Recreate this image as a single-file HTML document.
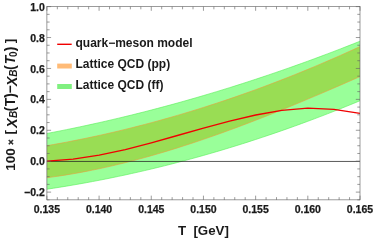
<!DOCTYPE html>
<html><head><meta charset="utf-8"><style>
html,body{margin:0;padding:0;background:#fff;}
svg{display:block;will-change:transform;font-family:"Liberation Sans",sans-serif;font-weight:bold;fill:#1a1a1a}
</style></head><body>
<svg width="373" height="240" viewBox="0 0 373 240">
<rect width="373" height="240" fill="#fff"/>
<polygon points="46.90,145.67 53.42,144.53 59.95,143.35 66.47,142.13 72.99,140.87 79.51,139.57 86.04,138.24 92.56,136.86 99.08,135.44 105.61,133.99 112.13,132.49 118.65,130.96 125.18,129.39 131.70,127.77 138.22,126.12 144.74,124.43 151.27,122.70 157.79,120.93 164.31,119.12 170.84,117.27 177.36,115.38 183.88,113.46 190.40,111.49 196.93,109.48 203.45,107.44 209.97,105.35 216.50,103.23 223.02,101.07 229.54,98.86 236.06,96.62 242.59,94.34 249.11,92.02 255.63,89.66 262.16,87.26 268.68,84.82 275.20,82.34 281.73,79.82 288.25,77.27 294.77,74.67 301.29,72.04 307.82,69.36 314.34,66.65 320.86,63.89 327.39,61.10 333.91,58.27 340.43,55.40 346.95,52.48 353.48,49.53 360.00,46.54 360.00,76.59 353.48,79.46 346.95,82.32 340.43,85.16 333.91,87.99 327.39,90.80 320.86,93.60 314.34,96.37 307.82,99.12 301.29,101.86 294.77,104.56 288.25,107.25 281.73,109.91 275.20,112.54 268.68,115.14 262.16,117.72 255.63,120.26 249.11,122.77 242.59,125.25 236.06,127.69 229.54,130.10 223.02,132.47 216.50,134.80 209.97,137.09 203.45,139.35 196.93,141.55 190.40,143.72 183.88,145.84 177.36,147.91 170.84,149.94 164.31,151.92 157.79,153.85 151.27,155.73 144.74,157.55 138.22,159.32 131.70,161.04 125.18,162.70 118.65,164.30 112.13,165.84 105.61,167.33 99.08,168.75 92.56,170.11 86.04,171.40 79.51,172.63 72.99,173.79 66.47,174.89 59.95,175.92 53.42,176.87 46.90,177.75" fill="#ff8000" fill-opacity="0.45"/>
<polygon points="46.90,133.47 53.42,132.22 59.95,130.94 66.47,129.63 72.99,128.30 79.51,126.93 86.04,125.54 92.56,124.12 99.08,122.67 105.61,121.19 112.13,119.68 118.65,118.15 125.18,116.58 131.70,114.99 138.22,113.37 144.74,111.72 151.27,110.04 157.79,108.33 164.31,106.59 170.84,104.83 177.36,103.04 183.88,101.21 190.40,99.36 196.93,97.48 203.45,95.58 209.97,93.64 216.50,91.68 223.02,89.68 229.54,87.66 236.06,85.61 242.59,83.53 249.11,81.42 255.63,79.28 262.16,77.12 268.68,74.92 275.20,72.70 281.73,70.45 288.25,68.17 294.77,65.86 301.29,63.53 307.82,61.16 314.34,58.77 320.86,56.34 327.39,53.89 333.91,51.41 340.43,48.90 346.95,46.37 353.48,43.80 360.00,41.21 360.00,100.75 353.48,103.44 346.95,106.10 340.43,108.72 333.91,111.31 327.39,113.86 320.86,116.37 314.34,118.85 307.82,121.29 301.29,123.70 294.77,126.07 288.25,128.40 281.73,130.70 275.20,132.96 268.68,135.18 262.16,137.37 255.63,139.53 249.11,141.64 242.59,143.72 236.06,145.77 229.54,147.77 223.02,149.75 216.50,151.68 209.97,153.58 203.45,155.44 196.93,157.27 190.40,159.06 183.88,160.81 177.36,162.53 170.84,164.21 164.31,165.86 157.79,167.46 151.27,169.04 144.74,170.57 138.22,172.07 131.70,173.53 125.18,174.96 118.65,176.35 112.13,177.70 105.61,179.02 99.08,180.30 92.56,181.54 86.04,182.75 79.51,183.92 72.99,185.05 66.47,186.15 59.95,187.21 53.42,188.23 46.90,189.22" fill="#00ff00" fill-opacity="0.4"/>
<g fill="none" stroke-width="0.6">
<polyline points="46.90,145.67 53.42,144.53 59.95,143.35 66.47,142.13 72.99,140.87 79.51,139.57 86.04,138.24 92.56,136.86 99.08,135.44 105.61,133.99 112.13,132.49 118.65,130.96 125.18,129.39 131.70,127.77 138.22,126.12 144.74,124.43 151.27,122.70 157.79,120.93 164.31,119.12 170.84,117.27 177.36,115.38 183.88,113.46 190.40,111.49 196.93,109.48 203.45,107.44 209.97,105.35 216.50,103.23 223.02,101.07 229.54,98.86 236.06,96.62 242.59,94.34 249.11,92.02 255.63,89.66 262.16,87.26 268.68,84.82 275.20,82.34 281.73,79.82 288.25,77.27 294.77,74.67 301.29,72.04 307.82,69.36 314.34,66.65 320.86,63.89 327.39,61.10 333.91,58.27 340.43,55.40 346.95,52.48 353.48,49.53 360.00,46.54" stroke="#e8a040"/>
<polyline points="46.90,177.75 53.42,176.87 59.95,175.92 66.47,174.89 72.99,173.79 79.51,172.63 86.04,171.40 92.56,170.11 99.08,168.75 105.61,167.33 112.13,165.84 118.65,164.30 125.18,162.70 131.70,161.04 138.22,159.32 144.74,157.55 151.27,155.73 157.79,153.85 164.31,151.92 170.84,149.94 177.36,147.91 183.88,145.84 190.40,143.72 196.93,141.55 203.45,139.35 209.97,137.09 216.50,134.80 223.02,132.47 229.54,130.10 236.06,127.69 242.59,125.25 249.11,122.77 255.63,120.26 262.16,117.72 268.68,115.14 275.20,112.54 281.73,109.91 288.25,107.25 294.77,104.56 301.29,101.86 307.82,99.12 314.34,96.37 320.86,93.60 327.39,90.80 333.91,87.99 340.43,85.16 346.95,82.32 353.48,79.46 360.00,76.59" stroke="#e8a040"/>
<polyline points="46.90,133.47 53.42,132.22 59.95,130.94 66.47,129.63 72.99,128.30 79.51,126.93 86.04,125.54 92.56,124.12 99.08,122.67 105.61,121.19 112.13,119.68 118.65,118.15 125.18,116.58 131.70,114.99 138.22,113.37 144.74,111.72 151.27,110.04 157.79,108.33 164.31,106.59 170.84,104.83 177.36,103.04 183.88,101.21 190.40,99.36 196.93,97.48 203.45,95.58 209.97,93.64 216.50,91.68 223.02,89.68 229.54,87.66 236.06,85.61 242.59,83.53 249.11,81.42 255.63,79.28 262.16,77.12 268.68,74.92 275.20,72.70 281.73,70.45 288.25,68.17 294.77,65.86 301.29,63.53 307.82,61.16 314.34,58.77 320.86,56.34 327.39,53.89 333.91,51.41 340.43,48.90 346.95,46.37 353.48,43.80 360.00,41.21" stroke="#55ee55"/>
<polyline points="46.90,189.22 53.42,188.23 59.95,187.21 66.47,186.15 72.99,185.05 79.51,183.92 86.04,182.75 92.56,181.54 99.08,180.30 105.61,179.02 112.13,177.70 118.65,176.35 125.18,174.96 131.70,173.53 138.22,172.07 144.74,170.57 151.27,169.04 157.79,167.46 164.31,165.86 170.84,164.21 177.36,162.53 183.88,160.81 190.40,159.06 196.93,157.27 203.45,155.44 209.97,153.58 216.50,151.68 223.02,149.75 229.54,147.77 236.06,145.77 242.59,143.72 249.11,141.64 255.63,139.53 262.16,137.37 268.68,135.18 275.20,132.96 281.73,130.70 288.25,128.40 294.77,126.07 301.29,123.70 307.82,121.29 314.34,118.85 320.86,116.37 327.39,113.86 333.91,111.31 340.43,108.72 346.95,106.10 353.48,103.44 360.00,100.75" stroke="#55ee55"/>
</g>
<path d="M46.9 161.45H360.0" stroke="#222" stroke-width="0.75" fill="none"/>
<polyline points="47.00,161.20 73.10,159.20 99.20,155.20 125.30,149.60 151.30,142.80 177.40,135.50 203.50,128.20 229.60,121.10 255.70,115.00 281.80,110.40 307.80,108.20 333.90,109.30 360.00,113.30" fill="none" stroke="#f00000" stroke-width="1.35" stroke-linejoin="round"/>
<g stroke="#666" stroke-width="0.65" fill="none">
<rect x="46.9" y="6.6" width="313.1" height="193.25"/>
<path d="M46.90 199.85h2.70 M360.00 199.85h-2.70"/><path d="M46.90 192.12h4.20 M360.00 192.12h-4.20"/><path d="M46.90 184.39h2.70 M360.00 184.39h-2.70"/><path d="M46.90 176.66h2.70 M360.00 176.66h-2.70"/><path d="M46.90 168.93h2.70 M360.00 168.93h-2.70"/><path d="M46.90 161.20h4.20 M360.00 161.20h-4.20"/><path d="M46.90 153.47h2.70 M360.00 153.47h-2.70"/><path d="M46.90 145.74h2.70 M360.00 145.74h-2.70"/><path d="M46.90 138.01h2.70 M360.00 138.01h-2.70"/><path d="M46.90 130.28h4.20 M360.00 130.28h-4.20"/><path d="M46.90 122.55h2.70 M360.00 122.55h-2.70"/><path d="M46.90 114.82h2.70 M360.00 114.82h-2.70"/><path d="M46.90 107.09h2.70 M360.00 107.09h-2.70"/><path d="M46.90 99.36h4.20 M360.00 99.36h-4.20"/><path d="M46.90 91.63h2.70 M360.00 91.63h-2.70"/><path d="M46.90 83.90h2.70 M360.00 83.90h-2.70"/><path d="M46.90 76.17h2.70 M360.00 76.17h-2.70"/><path d="M46.90 68.44h4.20 M360.00 68.44h-4.20"/><path d="M46.90 60.71h2.70 M360.00 60.71h-2.70"/><path d="M46.90 52.98h2.70 M360.00 52.98h-2.70"/><path d="M46.90 45.25h2.70 M360.00 45.25h-2.70"/><path d="M46.90 37.52h4.20 M360.00 37.52h-4.20"/><path d="M46.90 29.79h2.70 M360.00 29.79h-2.70"/><path d="M46.90 22.06h2.70 M360.00 22.06h-2.70"/><path d="M46.90 14.33h2.70 M360.00 14.33h-2.70"/><path d="M46.90 6.60h4.20 M360.00 6.60h-4.20"/><path d="M46.90 199.85v-4.20 M46.90 6.60v4.20"/><path d="M57.34 199.85v-2.70 M57.34 6.60v2.70"/><path d="M67.77 199.85v-2.70 M67.77 6.60v2.70"/><path d="M78.21 199.85v-2.70 M78.21 6.60v2.70"/><path d="M88.65 199.85v-2.70 M88.65 6.60v2.70"/><path d="M99.08 199.85v-4.20 M99.08 6.60v4.20"/><path d="M109.52 199.85v-2.70 M109.52 6.60v2.70"/><path d="M119.96 199.85v-2.70 M119.96 6.60v2.70"/><path d="M130.39 199.85v-2.70 M130.39 6.60v2.70"/><path d="M140.83 199.85v-2.70 M140.83 6.60v2.70"/><path d="M151.27 199.85v-4.20 M151.27 6.60v4.20"/><path d="M161.70 199.85v-2.70 M161.70 6.60v2.70"/><path d="M172.14 199.85v-2.70 M172.14 6.60v2.70"/><path d="M182.58 199.85v-2.70 M182.58 6.60v2.70"/><path d="M193.01 199.85v-2.70 M193.01 6.60v2.70"/><path d="M203.45 199.85v-4.20 M203.45 6.60v4.20"/><path d="M213.89 199.85v-2.70 M213.89 6.60v2.70"/><path d="M224.32 199.85v-2.70 M224.32 6.60v2.70"/><path d="M234.76 199.85v-2.70 M234.76 6.60v2.70"/><path d="M245.20 199.85v-2.70 M245.20 6.60v2.70"/><path d="M255.63 199.85v-4.20 M255.63 6.60v4.20"/><path d="M266.07 199.85v-2.70 M266.07 6.60v2.70"/><path d="M276.51 199.85v-2.70 M276.51 6.60v2.70"/><path d="M286.94 199.85v-2.70 M286.94 6.60v2.70"/><path d="M297.38 199.85v-2.70 M297.38 6.60v2.70"/><path d="M307.82 199.85v-4.20 M307.82 6.60v4.20"/><path d="M318.25 199.85v-2.70 M318.25 6.60v2.70"/><path d="M328.69 199.85v-2.70 M328.69 6.60v2.70"/><path d="M339.13 199.85v-2.70 M339.13 6.60v2.70"/><path d="M349.56 199.85v-2.70 M349.56 6.60v2.70"/><path d="M360.00 199.85v-4.20 M360.00 6.60v4.20"/>
</g>
<g font-size="10.5px" stroke="#1a1a1a" stroke-width="0.25"><text x="44.80" y="196.22" text-anchor="end">−0.2</text><text x="44.80" y="165.30" text-anchor="end">0.0</text><text x="44.80" y="134.38" text-anchor="end">0.2</text><text x="44.80" y="103.46" text-anchor="end">0.4</text><text x="44.80" y="72.54" text-anchor="end">0.6</text><text x="44.80" y="41.62" text-anchor="end">0.8</text><text x="44.80" y="10.70" text-anchor="end">1.0</text><text x="46.90" y="212.90" text-anchor="middle">0.135</text><text x="99.08" y="212.90" text-anchor="middle">0.140</text><text x="151.27" y="212.90" text-anchor="middle">0.145</text><text x="203.45" y="212.90" text-anchor="middle">0.150</text><text x="255.63" y="212.90" text-anchor="middle">0.155</text><text x="307.82" y="212.90" text-anchor="middle">0.160</text><text x="360.00" y="212.90" text-anchor="middle">0.165</text></g>
<g font-size="12px">
<path d="M57.2 44.3H71.7" stroke="#f00000" stroke-width="1.4"/>
<rect x="57.2" y="63.6" width="14.6" height="4.9" fill="#ffbb77"/>
<rect x="57.2" y="84" width="14.6" height="5" fill="#80f080"/>
<text x="75.5" y="46.7">quark−meson model</text>
<text x="75.5" y="67.5">Lattice QCD (pp)</text>
<text x="75.5" y="88.7">Lattice QCD (ff)</text>
</g>
<text x="177.9" y="234.9" font-size="13.3px" xml:space="preserve">T  [GeV]</text>
<g transform="translate(15.3,171.3) rotate(-90)"><text x="0.60" y="-0.80" font-size="13.5px">100</text><text x="26.45" y="-1.20" font-size="9px" stroke="#1a1a1a" stroke-width="0.4">×</text><text x="36.75" y="-1.10" font-size="13.5px">[</text><text x="43.55" y="1.90" font-size="14px" font-style="italic">X</text><text x="53.30" y="1.90" font-size="10px" font-style="italic">B</text><text x="59.90" y="0.00" font-size="14px">(</text><text x="65.15" y="0.00" font-size="14px">T</text><text x="73.60" y="0.00" font-size="14px">)</text><text x="77.85" y="0.00" font-size="14px">−</text><text x="85.40" y="1.90" font-size="14px" font-style="italic">X</text><text x="94.60" y="1.90" font-size="10px" font-style="italic">B</text><text x="101.20" y="0.00" font-size="14px">(</text><text x="107.05" y="0.00" font-size="14px" font-style="italic">T</text><text x="114.30" y="1.90" font-size="10px">0</text><text x="120.10" y="0.00" font-size="14px">)</text><text x="128.00" y="-1.10" font-size="13.5px">]</text></g>
</svg>
</body></html>
